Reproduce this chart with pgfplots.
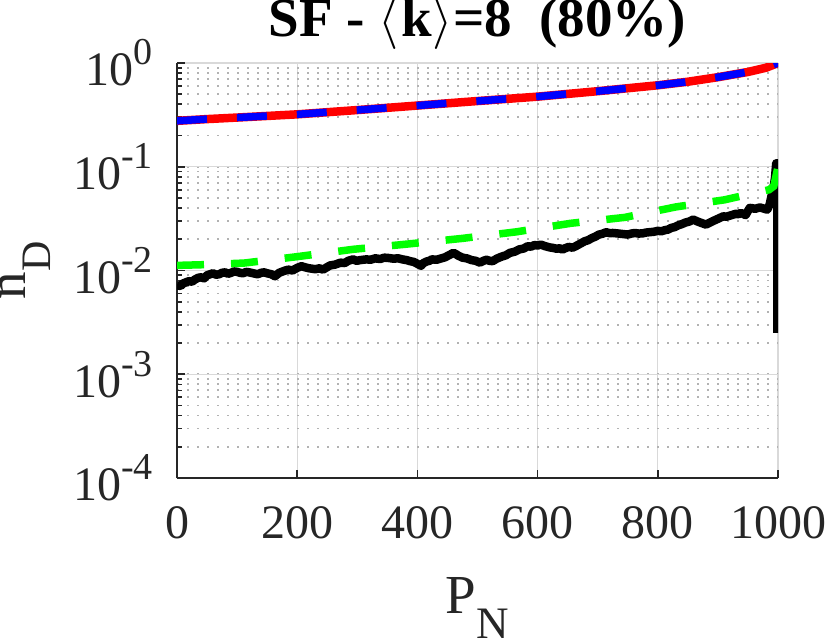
\documentclass[border=0pt]{standalone}
\usepackage{fontspec}
\setmainfont{Liberation Serif}
\usepackage{graphicx}
\usepackage{pgfplots}
\pgfplotsset{compat=1.18}
\definecolor{axgray}{HTML}{262626}
\definecolor{mygreen}{RGB}{0,255,0}
\definecolor{myred}{RGB}{255,0,0}
\definecolor{myblue}{RGB}{0,0,255}
\newcommand{\LA}{\resizebox*{!}{52bp}{$\langle$}}
\newcommand{\RA}{\resizebox*{!}{52bp}{$\rangle$}}
\begin{document}
\begin{tikzpicture}
\useasboundingbox (0,0) rectangle (830bp,644bp);
\begin{axis}[
  at={(177bp,166bp)}, anchor=south west,
  scale only axis, width=601bp, height=415bp,
  ymode=log, xmin=0, xmax=1000, ymin=1e-4, ymax=1,
  axis x line*=bottom, axis y line*=left,
  axis line style={axgray, line width=2.2bp, -},
  tick align=inside,
  major tick length=8bp, minor tick length=5bp,
  tick style={axgray, line width=1.6bp},
  xtick={0,200,400,600,800,1000},
  xticklabels={0,200,400,600,800,1000},
  ytick={1e-4,1e-3,1e-2,1e-1,1},
  yticklabels={10\raisebox{21bp}{\fontsize{38bp}{38bp}\selectfont -4},
               10\raisebox{21bp}{\fontsize{38bp}{38bp}\selectfont -3},
               10\raisebox{21bp}{\fontsize{38bp}{38bp}\selectfont -2},
               10\raisebox{21bp}{\fontsize{38bp}{38bp}\selectfont -1},
               10\raisebox{21bp}{\fontsize{38bp}{38bp}\selectfont 0}},
  xticklabel style={font=\fontsize{48bp}{48bp}\selectfont, text=axgray, anchor=base, inner sep=0pt, yshift=-60bp},
  yticklabel style={font=\fontsize{48bp}{48bp}\selectfont, text=axgray, anchor=east, inner sep=0pt, xshift=-24bp},
  xmajorgrids, ymajorgrids, yminorgrids,
  major grid style={color=black!15, line width=1.2bp},
  minor grid style={color=black!30, line width=1.8bp, dash pattern=on 1.8bp off 8.2bp},
  title={\bfseries SF - \LA\kern2bp k\kern1bp\RA=8\ \ (80\%)},
  title style={font=\fontsize{55bp}{55bp}\selectfont, text=black, at={(axis description cs:0.5,1.0506)}, anchor=base, inner sep=0pt},
  xlabel={P\raisebox{-25bp}{\fontsize{45bp}{45bp}\selectfont N}},
  xlabel style={font=\fontsize{55bp}{55bp}\selectfont, text=axgray, at={(axis description cs:0.5,-0.3253)}, anchor=base, inner sep=0pt},
  ylabel={n\raisebox{-25bp}{\fontsize{42bp}{42bp}\selectfont D}},
  ylabel style={font=\fontsize{55bp}{55bp}\selectfont, text=axgray, at={(axis description cs:-0.2529,0.5)}, anchor=base, inner sep=0pt},
]
% red solid
\addplot[myred, line width=8.5bp, line join=round] coordinates {
(0,0.277) (50,0.288) (100,0.298) (200,0.320) (300,0.352) (400,0.389) (500,0.430)
(600,0.474) (700,0.535) (800,0.610) (850,0.660) (900,0.730) (950,0.820) (980,0.900) (1000,1.0)};
% blue dashed
\addplot[myblue, line width=7.5bp, dash pattern=on 30bp off 30bp] coordinates {
(0,0.277) (50,0.288) (100,0.298) (200,0.320) (300,0.352) (400,0.389) (500,0.430)
(600,0.474) (700,0.535) (800,0.610) (850,0.660) (900,0.730) (950,0.820) (980,0.900) (1000,1.0)};
% black
\addplot[black, line width=8.5bp, line join=round] coordinates {
(0,0.0072) (6,0.0071) (10,0.0075) (15,0.0077) (20,0.0079) (25,0.0078) (30,0.0082) (35,0.0085) (40,0.0086) (45,0.0084) (50,0.0090) (55,0.0092) (60,0.0094)
(65,0.0091) (70,0.0092) (75,0.0095) (80,0.0096) (85,0.0093) (90,0.0095) (95,0.0098) (100,0.0097) (105,0.0095) (110,0.0094) (115,0.0097) (120,0.0096) (127,0.0094) (134,0.0092)
(140,0.0095) (145,0.0096) (150,0.0094) (157,0.0092) (163,0.0088) (170,0.0095) (178,0.0099) (185,0.0102) (192,0.0100) (200,0.0106) (207,0.0110) (214,0.0107) (220,0.0105)
(230,0.0103) (237,0.0105) (243,0.0102) (250,0.0108) (255,0.0112) (263,0.0114) (272,0.0119) (279,0.0118) (285,0.0124) (293,0.0128) (299,0.0124) (305,0.0126) (315,0.0128)
(322,0.0127) (330,0.0131) (338,0.0129) (345,0.0133) (352,0.0132) (360,0.0130) (368,0.0131) (375,0.0128) (382,0.0126) (388,0.0123) (394,0.0121) (400,0.0116) (406,0.0111)
(410,0.0118) (415,0.0122) (420,0.0124) (424,0.0128) (432,0.0127) (440,0.0131) (446,0.0134) (452,0.0140) (460,0.0148) (464,0.0144) (468,0.0139) (475,0.0133) (482,0.0131)
(490,0.0126) (497,0.0124) (504,0.0119) (510,0.0124) (515,0.0127) (520,0.0124) (525,0.0123) (532,0.0130) (540,0.0136) (547,0.0140) (554,0.0148) (562,0.0152) (570,0.0160)
(577,0.0163) (583,0.0171) (589,0.0170) (595,0.0176) (600,0.0174) (605,0.0178) (612,0.0172) (620,0.0167) (626,0.0165) (632,0.0162) (637,0.0164) (641,0.0159) (646,0.0164) (652,0.0169)
(658,0.0166) (663,0.0171) (670,0.0180) (678,0.0191) (684,0.0196) (690,0.0205) (696,0.0212) (702,0.0222) (708,0.0226) (714,0.0234) (720,0.0229) (725,0.0230) (732,0.0228) (738,0.0226)
(744,0.0224) (750,0.0222) (756,0.0227) (762,0.0230) (768,0.0227) (775,0.0228) (780,0.0232) (786,0.0234) (793,0.0236) (800,0.0241) (806,0.0239) (812,0.0245) (817,0.0248) (822,0.0257)
(828,0.0262) (835,0.0274) (840,0.0280) (846,0.0290) (852,0.0296) (859,0.0310) (864,0.0300) (870,0.0291) (875,0.0284) (880,0.0277) (886,0.0288) (892,0.0300) (900,0.0315) (909,0.0333)
(914,0.0330) (920,0.0338) (925,0.0345) (930,0.0352) (934,0.0348) (938,0.0359) (942,0.0351) (946,0.0342) (950,0.0375) (953,0.0401) (958,0.0398) (962,0.0393) (966,0.0400) (970,0.0405)
(976,0.0396) (982,0.0386) (986,0.0430) (989,0.0518) (992,0.060) (995,0.078) (997,0.108) (999,0.108) (999,0.0025)};
% green dashed
\addplot[mygreen, line width=7.5bp, dash pattern=on 27bp off 27bp] coordinates {
(0,0.0112) (50,0.0114) (112,0.0118) (200,0.0136) (293,0.0160) (384,0.0180) (475,0.0204)
(565,0.0236) (655,0.0285) (745,0.0325) (830,0.0410) (911,0.0480) (950,0.054) (985,0.060)
(993,0.065) (1000,0.100)};
\end{axis}
\end{tikzpicture}
\end{document}
